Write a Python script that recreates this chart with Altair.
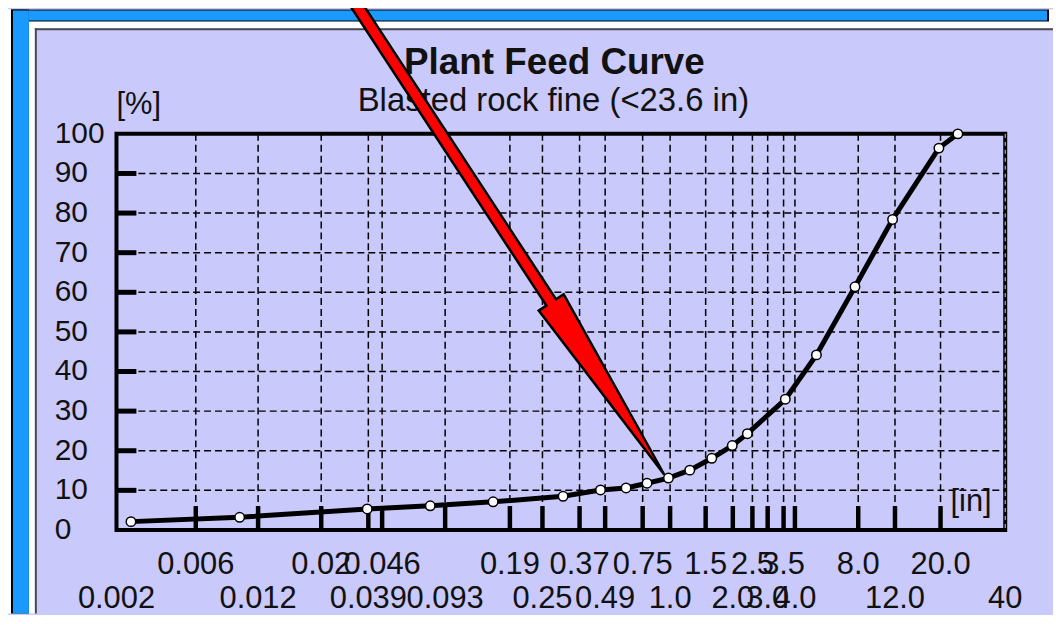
import altair as alt
import pandas as pd

# ---------------- data ----------------
TITLE = "Plant Feed Curve"
SUBTITLE = "Blasted rock fine (<23.6 in)"
Y_UNIT = "[%]"
X_UNIT = "[in]"

size_in = [0.00235, 0.00789, 0.0327, 0.066, 0.133, 0.290, 0.440, 0.585, 0.739, 0.938,
           1.19, 1.52, 1.91, 2.26, 3.45, 4.88, 7.50, 11.4, 19.1, 23.6]
passing = [2.1, 3.2, 5.3, 6.1, 7.1, 8.5, 10.1, 10.6, 11.8, 13.1,
           15.1, 18.1, 21.3, 24.3, 33.0, 44.2, 61.4, 78.4, 96.4, 100.0]

tick_pos = [0.002, 0.00484, 0.00969, 0.01958, 0.0331, 0.0386, 0.0779, 0.1603, 0.2304,
            0.3484, 0.4633, 0.7038, 0.9556, 1.420, 1.922, 2.391, 2.834, 3.384, 3.840,
            7.774, 11.71, 19.45, 40.0]
tick_labels = ["0.002", "0.006", "0.012", "0.02", "0.039", "0.046", "0.093", "0.19", "0.25",
               "0.37", "0.49", "0.75", "1.0", "1.5", "2.0", "2.5", "3.0", "3.5", "4.0",
               "8.0", "12.0", "20.0", "40"]
label_row = [2, 1, 2, 1, 2, 1, 2, 1, 2, 1, 2, 1, 2, 1, 2, 1, 2, 1, 2, 1, 2, 1, 2]

y_ticks = [0, 10, 20, 30, 40, 50, 60, 70, 80, 90, 100]
y_inner = [10, 20, 30, 40, 50, 60, 70, 80, 90]

# annotation arrow outline, in data units (inches, %)
arrow_x = [0.8963, 0.2919, 0.2679, 0.02583, 0.02322, 0.2408, 0.2210, 0.8963]
arrow_y = [13.94, 59.50, 58.23, 139.2, 137.6, 56.65, 55.38, 13.94]

# ---------------- styles ----------------
LAV = "#c9c9fb"
BLUE = "#1a9aff"
FONT = "Liberation Sans"
W, H = 893, 398

curve_df = pd.DataFrame({"size": size_in, "pct": passing})
ticks_df = pd.DataFrame({"pos": tick_pos, "label": tick_labels, "row": label_row})
inner_df = ticks_df.iloc[1:-1]
ygrid_df = pd.DataFrame({"pct": y_inner})
ylab_df = pd.DataFrame({"pct": y_ticks})
arrow_df = pd.DataFrame({"x": arrow_x, "y": arrow_y, "i": list(range(len(arrow_x)))})

xs = alt.Scale(type="log", domain=[0.002, 40], nice=False)
ys = alt.Scale(domain=[0, 100], nice=False, zero=False)
X = lambda f: alt.X(f, type="quantitative", scale=xs, axis=None)
Y = lambda f: alt.Y(f, type="quantitative", scale=ys, axis=None)

one = alt.Data(values=[{}])


def rect(x, x2, y, y2, color):
    return alt.Chart(one).mark_rect(color=color).encode(
        x=alt.value(x), x2=alt.value(x2), y=alt.value(y), y2=alt.value(y2))


def label(txt, x, y, size, align="left", weight="normal"):
    return alt.Chart(one).mark_text(
        text=txt, font=FONT, fontSize=size, fontWeight=weight, align=align,
        baseline="alphabetic", color="#111111").encode(x=alt.value(x), y=alt.value(y))


deco = [
    rect(-109, -82, -125, 482, "white"),
    rect(-109, 944, -125, -106, "white"),
    rect(-106, 937, -125, -113, "black"),
    rect(-104, 935, -124, -114, BLUE),
    rect(-106, -88, -125, 482, "black"),
    rect(-104, -88, -124, 482, BLUE),
    rect(-82, 944, -106, -104, "#4a4a55"),
    rect(-82, -80, -106, 482, "#4a4a55"),
]

vgrid = alt.Chart(inner_df).mark_rule(color="black", strokeWidth=1.5, strokeDash=[7, 4]).encode(
    x=X("pos"), y=alt.value(0), y2=alt.value(H))
hgrid = alt.Chart(ygrid_df).mark_rule(color="black", strokeWidth=1.5, strokeDash=[7, 4]).encode(
    y=Y("pct"), x=alt.value(0), x2=alt.value(W))
bticks = alt.Chart(inner_df).mark_rule(color="black", strokeWidth=4.5).encode(
    x=X("pos"), y=alt.value(H - 24), y2=alt.value(H))
lticks = alt.Chart(ygrid_df).mark_rule(color="black", strokeWidth=5).encode(
    y=Y("pct"), x=alt.value(0), x2=alt.value(20))
redge = alt.Chart(one).mark_rule(color=LAV, strokeWidth=1, strokeDash=[4, 4]).encode(
    x=alt.value(W), y=alt.value(0), y2=alt.value(H))

curve = alt.Chart(curve_df).mark_line(color="black", strokeWidth=5).encode(
    x=X("size"), y=Y("pct"))
points = alt.Chart(curve_df).mark_point(
    shape="circle", filled=True, fill="white", stroke="black", strokeWidth=1.5,
    size=90, opacity=1).encode(x=X("size"), y=Y("pct"))

ylabels = alt.Chart(ylab_df).mark_text(
    font=FONT, fontSize=30, align="left", baseline="middle", color="#111111").encode(
    y=Y("pct"), x=alt.value(-62), text=alt.Text("pct:Q", format="d"))

xlab1 = alt.Chart(ticks_df).transform_filter("datum.row == 1").mark_text(
    font=FONT, fontSize=31, align="center", baseline="alphabetic", color="#111111").encode(
    x=X("pos"), y=alt.value(442), text="label:N")
xlab2 = alt.Chart(ticks_df).transform_filter("datum.row == 2").mark_text(
    font=FONT, fontSize=31, align="center", baseline="alphabetic", color="#111111").encode(
    x=X("pos"), y=alt.value(476), text="label:N")

title = label(TITLE, 440, -60, 37, align="center", weight="bold")
subtitle = label(SUBTITLE, 439, -23, 33, align="center")
yunit = label(Y_UNIT, 0, -20, 31)
xunit = label(X_UNIT, 838, 379, 31)

arrow = alt.Chart(arrow_df).mark_line(
    fill="#ff0000", stroke="black", strokeWidth=2.5, strokeJoin="miter",
    strokeMiterLimit=30).encode(x=X("x"), y=Y("y"), order=alt.Order("i:Q"))

chart = alt.layer(
    *deco, hgrid, vgrid, bticks, lticks, redge, curve, points,
    ylabels, xlab1, xlab2, title, subtitle, yunit, xunit, arrow
).properties(
    width=W, height=H,
    padding={"left": 109, "top": 125, "right": 48, "bottom": 84},
    autosize=alt.AutoSizeParams(type="none"),
    background=LAV,
).configure_view(stroke="black", strokeWidth=4)

chart.save("out.html", embed_options={"renderer": "svg", "actions": False})
